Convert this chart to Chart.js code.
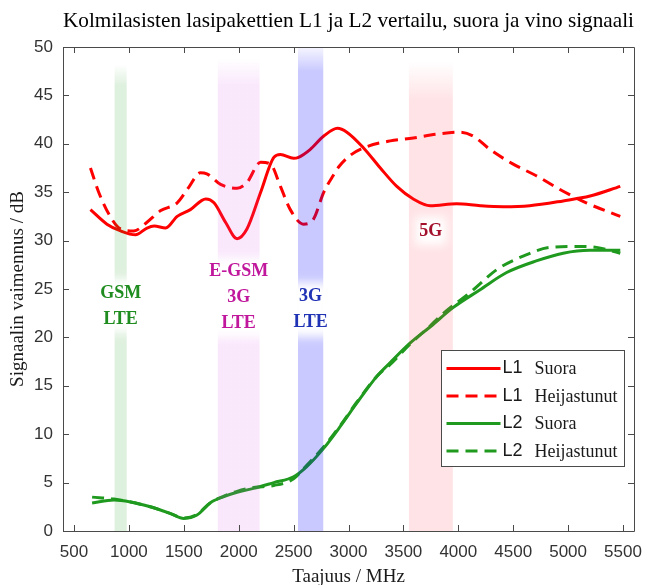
<!DOCTYPE html>
<html>
<head>
<meta charset="utf-8">
<title>Kolmilasisten lasipakettien vertailu</title>
<script src="https://cdn.jsdelivr.net/npm/chart.js@4.4.1/dist/chart.umd.min.js"></script>
<style>
  html, body { margin: 0; padding: 0; background: #fff; }
</style>
</head>
<body>
<canvas id="chart" width="657" height="585"></canvas>
<script>
// Axis ticks
const xTicks = [500, 1000, 1500, 2000, 2500, 3000, 3500, 4000, 4500, 5000, 5500];
const yTicks = [0, 5, 10, 15, 20, 25, 30, 35, 40, 45, 50];

// L1 suora (solid red)
const l1SuoraMHz = [650, 800, 925, 1060, 1165, 1230, 1335, 1440, 1560, 1700, 1775, 1880, 1985, 2075, 2200, 2320, 2380, 2500, 2545, 2650, 2775, 2900, 2985, 3135, 3290, 3440, 3590, 3745, 3985, 4200, 4410, 4650, 4955, 5200, 5475];
const l1SuoraDb = [33.2, 31.7, 31.0, 30.6, 31.3, 31.5, 31.3, 32.5, 33.2, 34.3, 33.9, 31.9, 30.2, 31.2, 35.0, 38.6, 38.9, 38.5, 38.6, 39.4, 40.8, 41.6, 41.2, 39.6, 37.5, 35.6, 34.3, 33.6, 33.8, 33.6, 33.5, 33.6, 34.1, 34.6, 35.6];

// L1 heijastunut (dashed red)
const l1HeijMHz = [650, 725, 835, 925, 1045, 1165, 1290, 1440, 1545, 1650, 1710, 1835, 1985, 2075, 2200, 2290, 2380, 2470, 2590, 2680, 2775, 2865, 2910, 3015, 3165, 3380, 3590, 3805, 4015, 4135, 4290, 4500, 4710, 4955, 5165, 5475];
const l1HeijDb = [37.5, 35.0, 32.4, 31.2, 31.0, 31.9, 33.1, 33.9, 35.5, 37.0, 36.9, 35.8, 35.4, 36.0, 38.1, 37.9, 35.6, 33.2, 31.7, 32.2, 35.0, 36.8, 37.6, 38.8, 39.7, 40.3, 40.6, 41.0, 41.2, 40.8, 39.4, 37.9, 36.7, 35.1, 33.9, 32.5];

// L2 suora (solid green)
const l2SuoraMHz = [665, 865, 1015, 1195, 1380, 1500, 1620, 1740, 1865, 1985, 2135, 2320, 2500, 2620, 2775, 2925, 3075, 3260, 3380, 3560, 3745, 3955, 4195, 4440, 4710, 4955, 5195, 5475];
const l2SuoraDb = [2.9, 3.2, 3.0, 2.5, 1.8, 1.3, 1.65, 2.9, 3.55, 4.0, 4.4, 5.0, 5.6, 6.65, 8.56, 10.8, 13.2, 16.0, 17.4, 19.4, 21.1, 23.1, 24.9, 26.7, 27.9, 28.7, 29.0, 29.0];

// L2 heijastunut (dashed green)
const l2HeijMHz = [665, 865, 1015, 1195, 1380, 1500, 1620, 1740, 1865, 1985, 2135, 2320, 2500, 2620, 2775, 2925, 3075, 3260, 3380, 3560, 3745, 3835, 4135, 4350, 4590, 4835, 5075, 5260, 5410, 5475];
const l2HeijDb = [3.5, 3.3, 3.0, 2.5, 1.8, 1.35, 1.7, 2.9, 3.6, 4.1, 4.5, 4.7, 5.4, 6.8, 8.7, 10.9, 13.3, 16.0, 17.2, 19.3, 21.2, 22.2, 24.9, 27.0, 28.4, 29.3, 29.4, 29.3, 28.9, 28.7];

// Frequency bands (MHz) and their labels
const bandFrom = [870, 1810, 2540, 3550];
const bandTo = [980, 2190, 2770, 3950];
const bandLabels = [['GSM', 'LTE'], ['E-GSM', '3G', 'LTE'], ['3G', 'LTE'], ['5G']];

const pts = (xs, ys) => xs.map((v, i) => ({ x: v, y: ys[i] }));

// band look: rgb, alpha, fade start/end (dB), label color, label dB of first line
const bandStyle = [
  { rgb: [0, 140, 0], a: 0.13, fade: [48.2, 46.0], text: '#1e8c1e', labelY: 24.6 },
  { rgb: [210, 60, 230], a: 0.12, fade: [48.8, 46.0], text: '#c0179c', labelY: 26.8 },
  { rgb: [0, 0, 255], a: 0.21, fade: [50.5, 47.5], text: '#2133b5', labelY: 24.2 },
  { rgb: [255, 40, 60], a: 0.13, fade: [48.5, 44.5], text: '#a3102c', labelY: 31.0 }
];
const LABEL_FONT = 'bold 18px "Liberation Serif"';
const LINE_GAP = 26;

const bandPlugin = {
  id: 'bands',
  afterDatasetsDraw(chart) {
    const { ctx, chartArea: a, scales: { x, y } } = chart;
    ctx.save();
    ctx.beginPath();
    ctx.rect(a.left, a.top, a.width, a.height);
    ctx.clip();

    bandFrom.forEach((from, i) => {
      const s = bandStyle[i];
      const x0 = x.getPixelForValue(from);
      const x1 = x.getPixelForValue(bandTo[i]);
      const yTop = y.getPixelForValue(s.fade[0]);
      const yFull = y.getPixelForValue(s.fade[1]);
      const c = s.rgb.join(',');
      const g = ctx.createLinearGradient(0, yTop, 0, yFull);
      g.addColorStop(0, `rgba(${c},0)`);
      g.addColorStop(1, `rgba(${c},${s.a})`);
      ctx.fillStyle = g;
      ctx.fillRect(x0, yTop, x1 - x0, a.bottom - yTop);
    });

    // white glow behind the labels
    ctx.font = LABEL_FONT;
    ctx.filter = 'blur(5px)';
    ctx.fillStyle = '#fff';
    bandLabels.forEach((lines, i) => {
      const cx = x.getPixelForValue((bandFrom[i] + bandTo[i]) / 2);
      const y0 = y.getPixelForValue(bandStyle[i].labelY);
      const w = Math.max(...lines.map(t => ctx.measureText(t).width));
      ctx.fillRect(cx - w / 2 - 4, y0 - 14, w + 8, (lines.length - 1) * LINE_GAP + 28);
    });
    ctx.filter = 'none';

    ctx.textAlign = 'center';
    ctx.textBaseline = 'middle';
    bandLabels.forEach((lines, i) => {
      const cx = x.getPixelForValue((bandFrom[i] + bandTo[i]) / 2);
      const y0 = y.getPixelForValue(bandStyle[i].labelY);
      ctx.fillStyle = bandStyle[i].text;
      lines.forEach((t, k) => ctx.fillText(t, cx, y0 + k * LINE_GAP));
    });
    ctx.restore();
  }
};

// box around the axes with inward ticks (MATLAB style)
const framePlugin = {
  id: 'frame',
  afterDraw(chart) {
    const { ctx, chartArea: a, scales: { x, y } } = chart;
    const len = 6;
    ctx.save();
    ctx.strokeStyle = '#4a4a4a';
    ctx.lineWidth = 1;
    ctx.beginPath();
    ctx.rect(Math.round(a.left) + 0.5, Math.round(a.top) + 0.5, Math.round(a.width), Math.round(a.height));
    x.ticks.forEach(t => {
      const px = Math.round(x.getPixelForValue(t.value)) + 0.5;
      ctx.moveTo(px, a.bottom); ctx.lineTo(px, a.bottom - len);
      ctx.moveTo(px, a.top); ctx.lineTo(px, a.top + len);
    });
    y.ticks.forEach(t => {
      const py = Math.round(y.getPixelForValue(t.value)) + 0.5;
      ctx.moveTo(a.left, py); ctx.lineTo(a.left + len, py);
      ctx.moveTo(a.right, py); ctx.lineTo(a.right - len, py);
    });
    ctx.stroke();
    ctx.restore();
  }
};

// legend box inside the plot, lower right
const legendPlugin = {
  id: 'boxLegend',
  afterDraw(chart) {
    const { ctx, chartArea: a } = chart;
    const w = 183, h = 116;
    const left = Math.round(a.right - 10 - w) + 0.5;
    const top = Math.round(a.bottom - 65 - h) + 0.5;
    ctx.save();
    ctx.fillStyle = '#fff';
    ctx.fillRect(left, top, w, h);
    ctx.strokeStyle = '#4a4a4a';
    ctx.lineWidth = 1;
    ctx.strokeRect(left, top, w, h);
    ctx.textBaseline = 'middle';
    ctx.textAlign = 'left';
    chart.data.datasets.forEach((ds, i) => {
      const yy = top + 18 + i * 27.5;
      ctx.beginPath();
      ctx.strokeStyle = ds.borderColor;
      ctx.lineWidth = 3;
      ctx.setLineDash(ds.borderDash || []);
      ctx.moveTo(left + 5, yy);
      ctx.lineTo(left + 59, yy);
      ctx.stroke();
      ctx.setLineDash([]);
      const [code, ...rest] = ds.label.split(' ');
      ctx.fillStyle = '#1a1a1a';
      ctx.font = '18px "Liberation Sans"';
      ctx.fillText(code, left + 61, yy);
      ctx.font = '18px "Liberation Serif"';
      ctx.fillText(rest.join(' '), left + 93, yy + 1);
    });
    ctx.restore();
  }
};

const RED = '#ff0000';
const GREEN = '#1f9a1f';
const DASH = [12, 7];

new Chart(document.getElementById('chart'), {
  type: 'line',
  data: {
    datasets: [
      { label: 'L1 Suora', data: pts(l1SuoraMHz, l1SuoraDb), borderColor: RED },
      { label: 'L1 Heijastunut', data: pts(l1HeijMHz, l1HeijDb), borderColor: RED, borderDash: DASH },
      { label: 'L2 Suora', data: pts(l2SuoraMHz, l2SuoraDb), borderColor: GREEN },
      { label: 'L2 Heijastunut', data: pts(l2HeijMHz, l2HeijDb), borderColor: GREEN, borderDash: DASH }
    ]
  },
  options: {
    responsive: false,
    animation: false,
    devicePixelRatio: 1,
    parsing: false,
    elements: {
      point: { radius: 0 },
      line: { borderWidth: 3, cubicInterpolationMode: 'monotone', fill: false }
    },
    layout: { padding: { top: 0, right: 23, bottom: 0, left: 0 } },
    plugins: {
      legend: { display: false },
      tooltip: { enabled: false },
      title: {
        display: true,
        fullSize: false,
        text: 'Kolmilasisten lasipakettien L1 ja L2 vertailu, suora ja vino signaali',
        color: '#000',
        font: { family: 'Liberation Serif', size: 21.5, weight: 'normal', lineHeight: 1.2 },
        padding: { top: 8, bottom: 13.2 }
      }
    },
    scales: {
      x: {
        type: 'linear',
        min: 400,
        max: 5600,
        afterBuildTicks: s => { s.ticks = xTicks.map(v => ({ value: v })); },
        afterFit: s => { s.height = 54; },
        grid: { display: false, drawTicks: false },
        border: { display: false },
        ticks: { color: '#333', padding: 11, maxRotation: 0, autoSkip: false,
                 callback: v => String(v),
                 font: { family: 'Liberation Sans', size: 17 } },
        title: { display: true, text: 'Taajuus / MHz', color: '#1a1a1a',
                 font: { family: 'Liberation Serif', size: 19 }, padding: { top: 0, bottom: -3 } }
      },
      y: {
        min: 0,
        max: 50,
        afterBuildTicks: s => { s.ticks = yTicks.map(v => ({ value: v })); },
        afterFit: s => { s.width = 63; },
        grid: { display: false, drawTicks: false },
        border: { display: false },
        ticks: { color: '#333', padding: 10, font: { family: 'Liberation Sans', size: 17 } },
        title: { display: true, text: 'Signaalin vaimennus / dB', color: '#1a1a1a',
                 font: { family: 'Liberation Serif', size: 19 }, padding: { top: 7, bottom: 0 } }
      }
    }
  },
  plugins: [bandPlugin, framePlugin, legendPlugin]
});
</script>
</body>
</html>
